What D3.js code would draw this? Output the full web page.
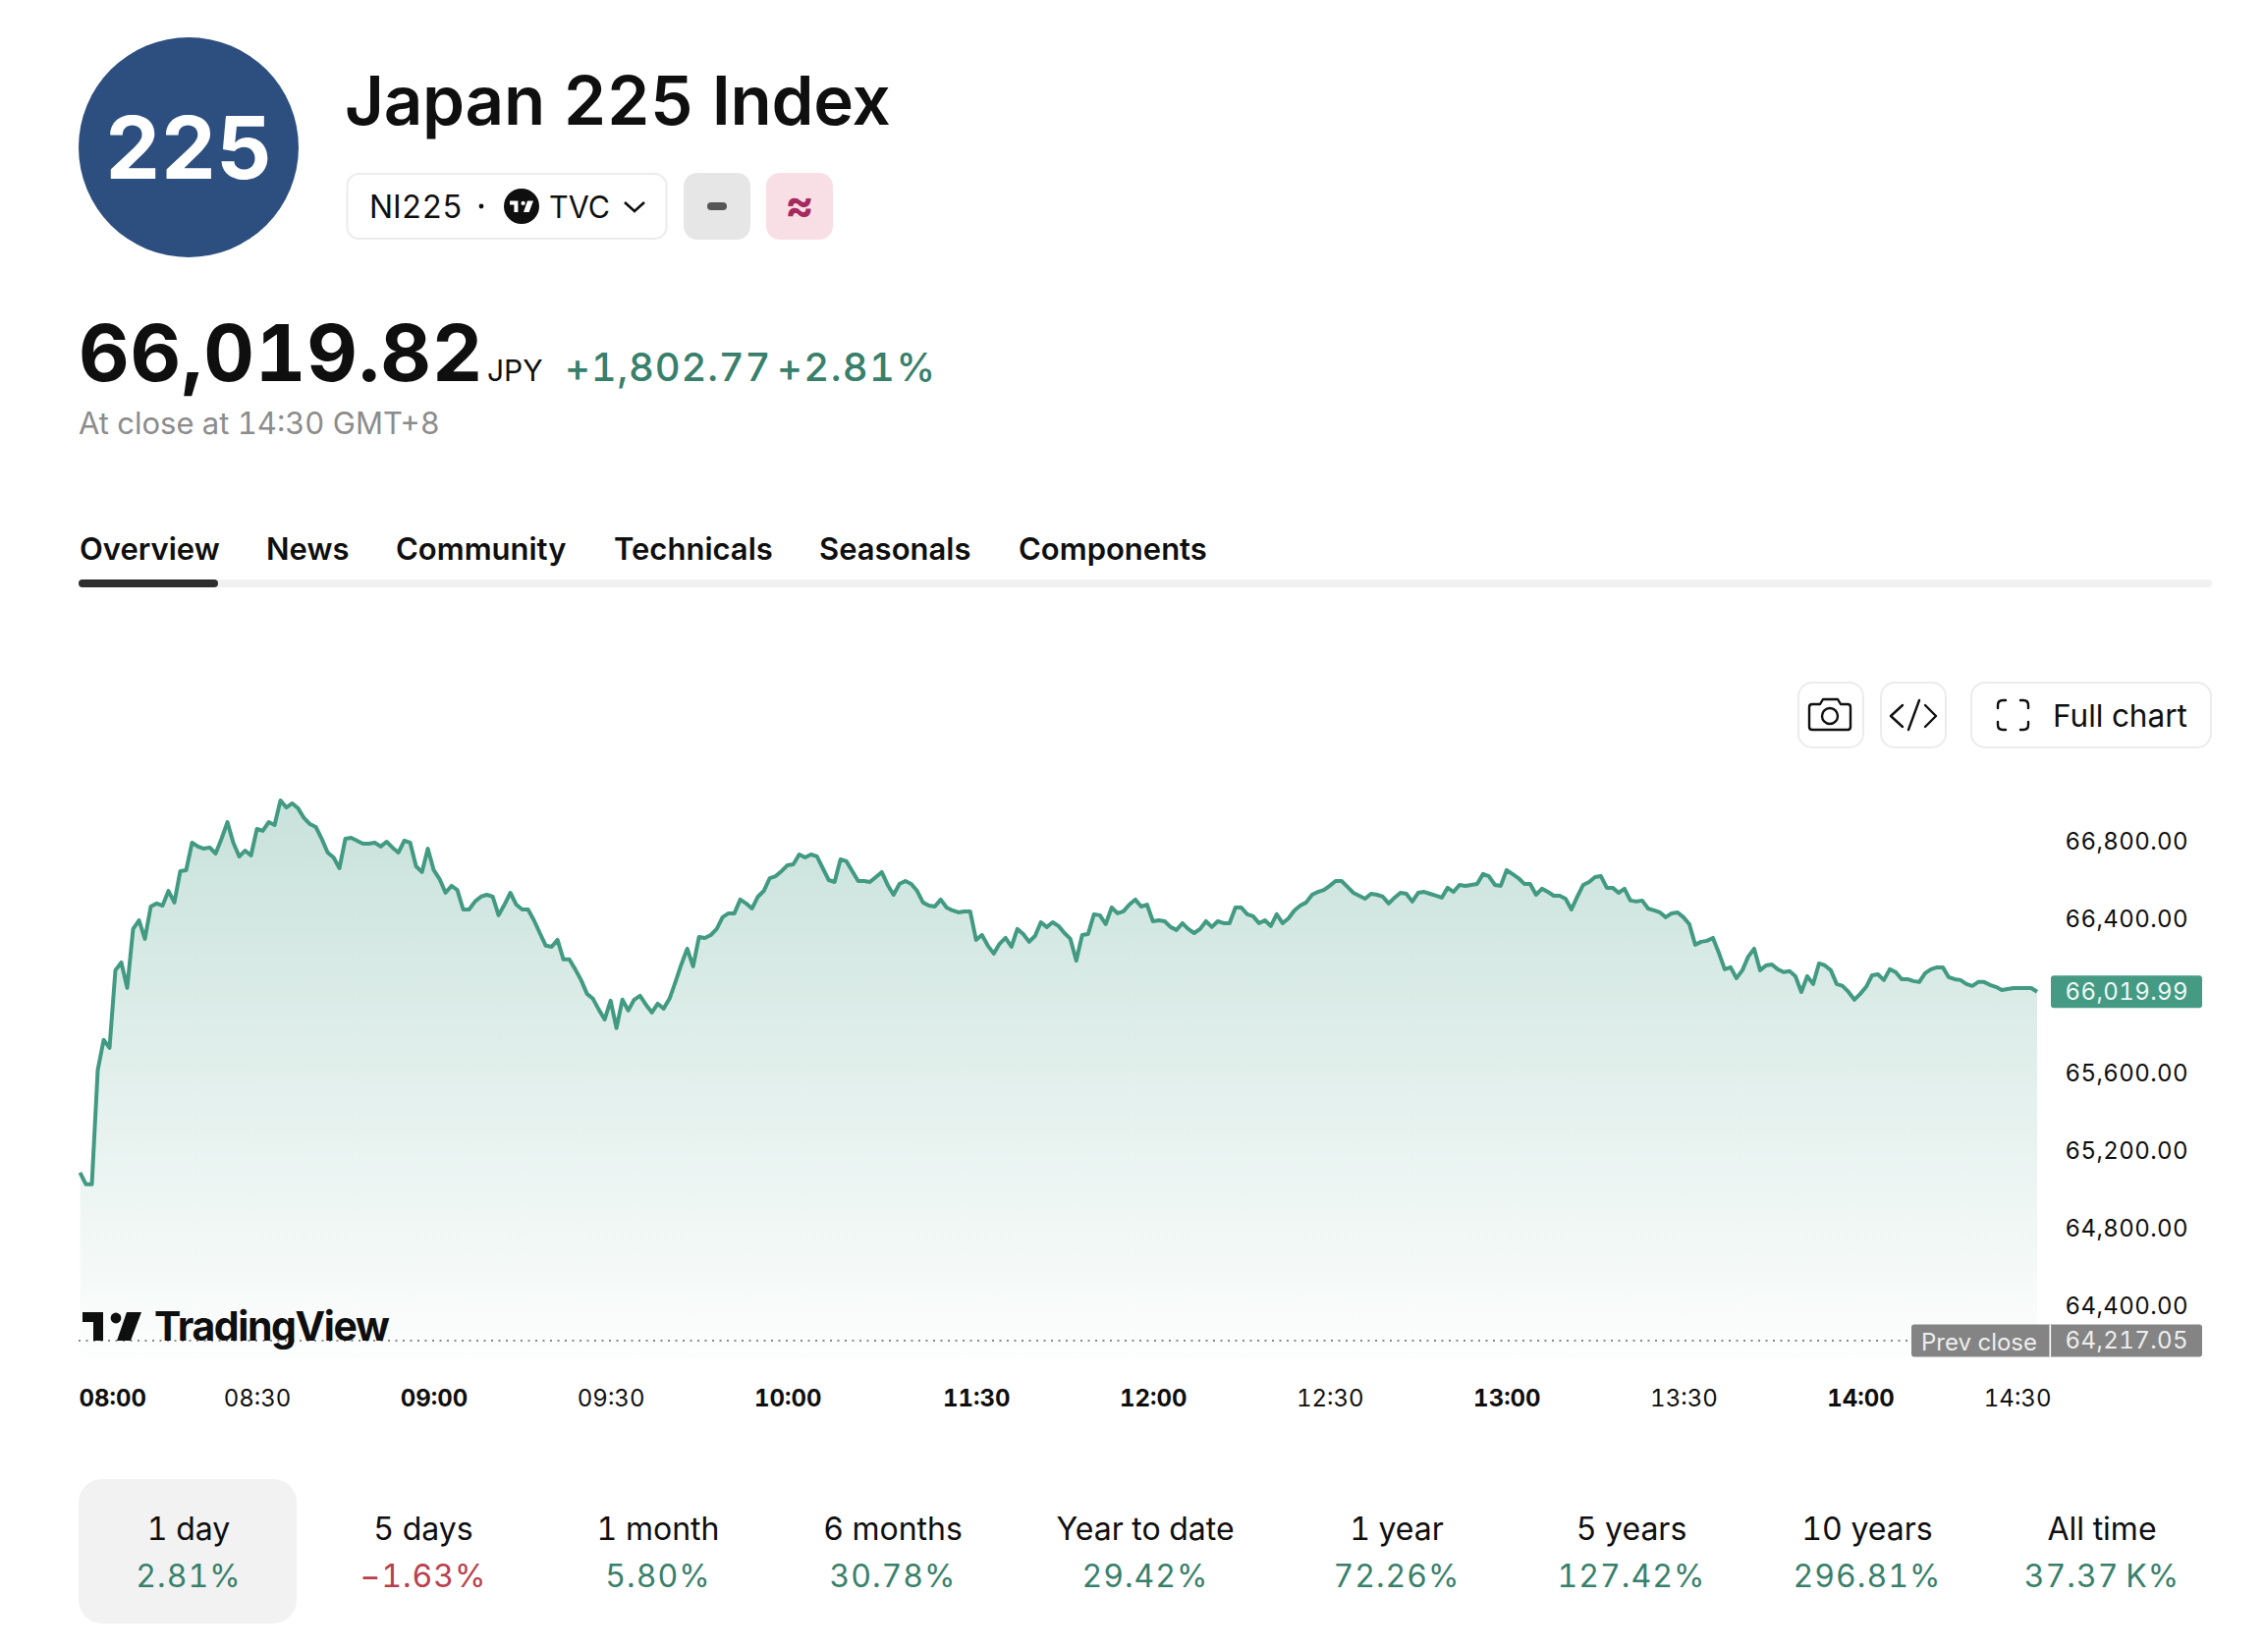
<!DOCTYPE html>
<html>
<head>
<meta charset="utf-8">
<title>Japan 225 Index</title>
<script src="https://cdn.jsdelivr.net/npm/d3@7"></script>
<style>
  html, body { margin: 0; background: #fff; }
  svg { display: block; }
  text { font-family: Inter, "Noto Sans", sans-serif; font-variant-numeric: tabular-nums; }
</style>
</head>
<body>
<svg id="page" width="2306" height="1682"></svg>
<script>
// Intraday closes, one per minute of the session, in JPY.
const prices = [
65086,65025,65025,65614,65771,65730,66131,66171,66040,66344,66389,66293,66460,66476,66465,66541,66481,66643,66648,66790,
66770,66759,66765,66734,66810,66896,66790,66719,66749,66724,66861,66851,66896,66881,67008,66972,66993,66967,66917,66886,
66871,66810,66739,66714,66658,66810,66815,66800,66785,66785,66790,66770,66795,66765,66739,66800,66790,66668,66638,66759,
66648,66602,66531,66567,66546,66445,66445,66486,66511,66521,66511,66415,66470,66531,66470,66445,66445,66389,66323,66258,
66252,66288,66187,66187,66136,66080,66009,65984,65928,65877,65974,65832,65979,65923,65979,65999,65953,65913,65958,65933,
65984,66070,66161,66242,66151,66303,66298,66313,66344,66405,66425,66425,66496,66476,66450,66511,66541,66607,66617,66643,
66673,66678,66729,66714,66729,66719,66658,66597,66587,66704,66694,66643,66592,66592,66587,66612,66638,66572,66521,66577,
66592,66577,66541,66481,66465,66460,66496,66455,66440,66430,66435,66435,66288,66313,66258,66217,66268,66298,66252,66344,
66318,66278,66308,66379,66354,66379,66359,66323,66293,66181,66313,66318,66420,66415,66369,66455,66425,66435,66470,66496,
66460,66470,66384,66389,66384,66354,66339,66374,66344,66323,66344,66384,66354,66384,66374,66374,66455,66455,66420,66410,
66374,66389,66359,66420,66374,66399,66440,66465,66481,66521,66536,66546,66567,66592,66592,66562,66531,66516,66501,66526,
66521,66511,66476,66506,66531,66526,66486,66531,66536,66526,66516,66506,66557,66536,66572,66567,66572,66577,66628,66617,
66572,66567,66648,66628,66607,66577,66577,66521,66552,66536,66516,66516,66501,66445,66511,66572,66587,66612,66617,66557,
66557,66531,66552,66491,66486,66491,66450,66440,66430,66405,66425,66430,66405,66369,66263,66278,66283,66298,66222,66136,
66146,66090,66131,66202,66242,66131,66156,66161,66136,66121,66126,66100,66019,66100,66060,66166,66156,66131,66060,66050,
66019,65979,66009,66045,66105,66110,66080,66136,66121,66085,66085,66075,66070,66116,66136,66146,66146,66095,66085,66080,
66060,66050,66070,66070,66055,66045,66029,66034,66039,66039,66039,66039,66019.99
];
const prevClose = 64217.05;

const priceTicks = [66800, 66400, 65600, 65200, 64800, 64400];
const timeIndex = [0, 30, 60, 90, 120, 152, 182, 212, 242, 272, 302, 332];
const timeLabels = ["08:00","08:30","09:00","09:30","10:00","11:30","12:00","12:30","13:00","13:30","14:00","14:30"];
const boldTimes = ["08:00","09:00","10:00","11:30","12:00","13:00","14:00"];

const tabNames = ["Overview","News","Community","Technicals","Seasonals","Components"];
const tabLeft = [81,271,403,625,834,1037];

const periodNames = ["1 day","5 days","1 month","6 months","Year to date","1 year","5 years","10 years","All time"];
const periodValues = ["2.81%","\u22121.63%","5.80%","30.78%","29.42%","72.26%","127.42%","296.81%","37.37\u2009K%"];
const periodCenter = [192,431,670,909,1166,1422,1661,1901,2140];

const INK = "#0f0f0f", GREEN = "#38806b", RED = "#b8404e", LINE = "#429a82", GREY = "#8c8c8c";

const svg = d3.select("#page");

function label(parent, x, y, str, size, opts = {}) {
  return parent.append("text")
    .attr("x", x).attr("y", y)
    .attr("font-size", size)
    .attr("font-weight", opts.weight || 400)
    .attr("fill", opts.fill || INK)
    .attr("text-anchor", opts.anchor || "start")
    .attr("letter-spacing", opts.spacing || null)
    .text(str);
}

function roundBox(parent, x, y, w, h, r, fill, stroke) {
  return parent.append("rect")
    .attr("x", x).attr("y", y).attr("width", w).attr("height", h).attr("rx", r)
    .attr("fill", fill).attr("stroke", stroke || "none").attr("stroke-width", stroke ? 2 : 0);
}

// TradingView mark: bar with stem, dot and slanted stroke; drawn in a 60x29 box.
function tvMark(parent, x, y, scale, fill) {
  const g = parent.append("g").attr("transform", `translate(${x},${y}) scale(${scale})`).attr("fill", fill);
  g.append("path").attr("d", "M0 0H21V29H11V10H0Z");
  g.append("circle").attr("cx", 34).attr("cy", 6).attr("r", 5.4);
  g.append("path").attr("d", "M45 0H60L49 29H35Z");
}

/* Header */
const header = svg.append("g");
header.append("circle").attr("cx", 192).attr("cy", 150).attr("r", 112).attr("fill", "#2d4f80");
label(header, 192, 182, "225", 88, {weight: 700, fill: "#fff", anchor: "middle"});
label(header, 351, 127, "Japan 225 Index", 69, {weight: 600, spacing: -0.25});

roundBox(header, 353.5, 177, 325, 66, 12, "#fff", "#ececec");
label(header, 376, 222, "NI225", 32);
header.append("circle").attr("cx", 490).attr("cy", 210).attr("r", 2.4).attr("fill", INK);
header.append("circle").attr("cx", 531).attr("cy", 210).attr("r", 18).attr("fill", INK);
tvMark(header, 519, 204.5, 0.4, "#fff");
label(header, 559, 222, "TVC", 30.5);
header.append("path").attr("d", "M636 206L646 215L656 206").attr("fill", "none").attr("stroke", INK).attr("stroke-width", 2.6);

roundBox(header, 696, 176, 68, 68, 14, "#e6e6e6");
roundBox(header, 720, 206, 20, 8, 4, "#565656");
roundBox(header, 780, 176, 68, 68, 14, "#f8dfe6");
label(header, 814, 224, "\u2248", 44, {weight: 700, fill: "#a62a5e", anchor: "middle"});

label(header, 80, 388, "66,019.82", 80, {weight: 700, spacing: 0.8});
label(header, 496, 388, "JPY", 30);
label(header, 575, 388, "+1,802.77", 40, {weight: 500, fill: GREEN, spacing: 0.8});
label(header, 791, 388, "+2.81%", 40, {weight: 500, fill: GREEN, spacing: 1.4});
label(header, 80, 442, "At close at 14:30 GMT+8", 31, {fill: GREY});

/* Tabs */
const tabs = svg.append("g");
tabs.selectAll("text").data(tabNames).join("text")
  .attr("x", (d, i) => tabLeft[i]).attr("y", 570)
  .attr("font-size", 31).attr("font-weight", 600).attr("fill", INK)
  .text(d => d);
roundBox(tabs, 80, 590, 2172, 8, 4, "#f1f1f1");
roundBox(tabs, 80, 590, 142, 8, 4, "#2e2e2e");

/* Chart toolbar */
const tools = svg.append("g");
roundBox(tools, 1831, 695, 66, 66, 14, "#fff", "#ececec");
roundBox(tools, 1915, 695, 66, 66, 14, "#fff", "#ececec");
roundBox(tools, 2007, 695, 244, 66, 14, "#fff", "#ececec");
const iconStyle = g => g.attr("fill", "none").attr("stroke", INK).attr("stroke-width", 2.4)
  .attr("stroke-linecap", "round").attr("stroke-linejoin", "round");
tools.append("g").call(iconStyle).call(g => {
  g.append("path").attr("d", "M1845 717H1853L1856 712H1871L1874 717H1881Q1884 717 1884 720V740Q1884 743 1881 743H1845Q1842 743 1842 740V720Q1842 717 1845 717Z");
  g.append("circle").attr("cx", 1863).attr("cy", 729).attr("r", 8);
});
tools.append("g").call(iconStyle).call(g => {
  g.append("path").attr("d", "M1937 718L1925 729L1937 740");
  g.append("path").attr("d", "M1954 713L1943 743");
  g.append("path").attr("d", "M1960 718L1971 729L1960 740");
});
tools.append("g").call(iconStyle)
  .append("path").attr("d", "M2034 721V718Q2034 713 2039 713H2042M2057 713H2060Q2065 713 2065 718V721M2065 735V738Q2065 743 2060 743H2057M2042 743H2039Q2034 743 2034 738V735");
label(tools, 2090, 740, "Full chart", 31.5);

/* Price chart */
const x = d3.scaleLinear().domain([0, prices.length - 1]).range([81.5, 2074]);
const y = d3.scaleLinear().domain([64400, 66800]).range([1329, 856]);
const chartBottom = 1384;

const defs = svg.append("defs");
const grad = defs.append("linearGradient").attr("id", "areaFill")
  .attr("gradientUnits", "userSpaceOnUse").attr("x1", 0).attr("x2", 0).attr("y1", 815).attr("y2", chartBottom);
grad.append("stop").attr("offset", 0).attr("stop-color", LINE).attr("stop-opacity", 0.29);
grad.append("stop").attr("offset", 1).attr("stop-color", LINE).attr("stop-opacity", 0.012);

const chart = svg.append("g");
chart.append("path").datum(prices)
  .attr("fill", "url(#areaFill)")
  .attr("d", d3.area().x((d, i) => x(i)).y0(chartBottom).y1(d => y(d)));
chart.append("path").datum(prices)
  .attr("fill", "none").attr("stroke", LINE).attr("stroke-width", 4).attr("stroke-linejoin", "round")
  .attr("d", d3.line().x((d, i) => x(i)).y(d => y(d)));

// Previous close reference line
chart.append("line")
  .attr("x1", 80).attr("x2", 1946).attr("y1", y(prevClose)).attr("y2", y(prevClose))
  .attr("stroke", "#8a8a8a").attr("stroke-width", 2).attr("stroke-dasharray", "2 5.5");

tvMark(chart, 84, 1336, 1, INK);
label(chart, 157, 1365, "TradingView", 41, {weight: 700, spacing: -1.4});

// Price axis
const yAxis = d3.axisRight(y).tickValues(priceTicks).tickSize(0).tickFormat(d3.format(",.2f"));
const yG = svg.append("g").attr("transform", "translate(2228,0)").call(yAxis);
yG.select(".domain").remove();
yG.selectAll("text").attr("x", 0).attr("dy", "0.35em").attr("text-anchor", "end")
  .attr("font-family", "Inter").attr("font-size", 24).attr("fill", INK).attr("letter-spacing", 0.4);

// Last price and previous close tags
const lastPrice = prices[prices.length - 1];
const fmt = d3.format(",.2f");
roundBox(svg, 2088, y(lastPrice) - 16.5, 154, 33, 3, "#459a84");
label(svg, 2228, y(lastPrice) + 8.5, fmt(lastPrice), 24, {fill: "#eef7f4", anchor: "end", spacing: 0.4});
roundBox(svg, 1946, y(prevClose) - 16.5, 296, 33, 3, "#848484");
svg.append("rect").attr("x", 2086.5).attr("y", y(prevClose) - 16.5).attr("width", 1.6).attr("height", 33).attr("fill", "#fff");
label(svg, 1956, y(prevClose) + 10, "Prev close", 24, {fill: "#eeeeee"});
label(svg, 2228, y(prevClose) + 8, fmt(prevClose), 24, {fill: "#eeeeee", anchor: "end", spacing: 0.4});

// Time axis
const xAxis = d3.axisBottom(x).tickValues(timeIndex).tickSize(0).tickFormat((d, i) => timeLabels[i]);
const xG = svg.append("g").attr("transform", "translate(0,1424)").call(xAxis);
xG.select(".domain").remove();
xG.selectAll("text").attr("y", 0).attr("dy", "0.35em")
  .attr("font-family", "Inter").attr("font-size", 24).attr("fill", INK)
  .attr("font-weight", (d, i) => boldTimes.includes(timeLabels[i]) ? 700 : 400)
  .attr("text-anchor", (d, i) => i === 0 ? "start" : i === timeIndex.length - 1 ? "end" : "middle")
  .attr("dx", (d, i) => i === 0 ? -1.5 : i === timeIndex.length - 1 ? 14 : 0);

/* Period performance strip */
const strip = svg.append("g");
roundBox(strip, 80, 1506, 222, 147, 24, "#f2f2f2");
strip.selectAll("text.name").data(periodNames).join("text").attr("class", "name")
  .attr("x", (d, i) => periodCenter[i]).attr("y", 1568)
  .attr("text-anchor", "middle").attr("font-size", 32).attr("fill", INK).text(d => d);
strip.selectAll("text.val").data(periodValues).join("text").attr("class", "val")
  .attr("x", (d, i) => periodCenter[i]).attr("y", 1616)
  .attr("text-anchor", "middle").attr("font-size", 32).attr("letter-spacing", 1)
  .attr("fill", d => d.startsWith("\u2212") ? RED : GREEN).text(d => d);
</script>
</body>
</html>
